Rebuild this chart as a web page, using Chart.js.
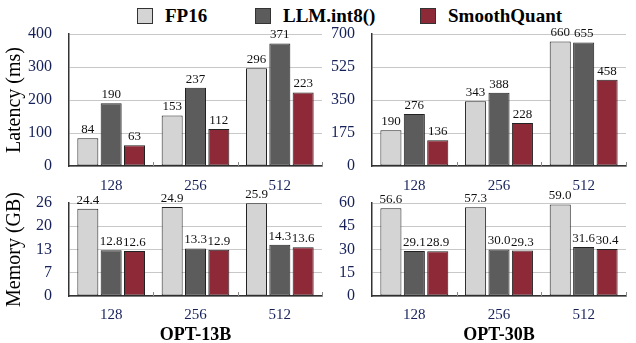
<!DOCTYPE html>
<html>
<head>
<meta charset="utf-8">
<script src="https://cdn.jsdelivr.net/npm/chart.js@4/dist/chart.umd.min.js"></script>
<style>
    html, body { margin: 0; padding: 0; background: #fff; }
    #wrap { position: relative; width: 636px; height: 343px; overflow: hidden; font-family: "Liberation Serif", "Times New Roman", serif; }
    #wrap canvas { position: absolute; }
    .legend .item { position: absolute; top: 6px; display: flex; align-items: center; }
    .legend .box { width: 14px; height: 14px; border: 1.5px solid #333; margin-right: 12px; }
    .legend .name { font-weight: bold; font-size: 19px; color: #000; line-height: 20px; }
</style>
</head>
<body>
<div id="wrap">
    <div class="legend" id="legend"></div>
    <canvas id="lat13" width="328" height="182" style="left:0;top:18px"></canvas>
    <canvas id="lat30" width="314" height="182" style="left:322px;top:18px"></canvas>
    <canvas id="mem13" width="328" height="160" style="left:0;top:186px"></canvas>
    <canvas id="mem30" width="314" height="160" style="left:322px;top:186px"></canvas>
</div>
<script>
const groups = ['128', '256', '512'];
const seriesNames = ['FP16', 'LLM.int8()', 'SmoothQuant'];

const latency13bFp16 = [84, 153, 296];
const latency13bInt8 = [190, 237, 371];
const latency13bSq = [63, 112, 223];

const latency30bFp16 = [190, 343, 660];
const latency30bInt8 = [276, 388, 655];
const latency30bSq = [136, 228, 458];

const memory13bFp16 = [24.4, 24.9, 25.9];
const memory13bInt8 = [12.8, 13.3, 14.3];
const memory13bSq = [12.6, 12.9, 13.6];

const memory30bFp16 = [56.6, 57.3, 59.0];
const memory30bInt8 = [29.1, 30.0, 31.6];
const memory30bSq = [28.9, 29.3, 30.4];

const colors = ['#d4d4d4', '#5c5c5c', '#8e2a38'];
const tickColor = '#16215a';
const legendLefts = [137, 255, 420];

Chart.defaults.font.family = '"Liberation Serif", "Times New Roman", serif';

// html legend
const legendEl = document.getElementById('legend');
seriesNames.forEach(function (name, i) {
    const item = document.createElement('div');
    item.className = 'item';
    item.style.left = legendLefts[i] + 'px';
    item.innerHTML = '<span class="box" style="background:' + colors[i] + '"></span><span class="name"></span>';
    item.querySelector('.name').textContent = name;
    legendEl.appendChild(item);
});

const valueLabels = {
    id: 'valueLabels',
    afterDatasetsDraw(chart, args, opts) {
        const ctx = chart.ctx;
        ctx.save();
        ctx.font = '13px "Liberation Serif", "Times New Roman", serif';
        ctx.fillStyle = '#111';
        ctx.textAlign = 'center';
        ctx.textBaseline = 'bottom';
        chart.data.datasets.forEach(function (ds, i) {
            chart.getDatasetMeta(i).data.forEach(function (bar, j) {
                ctx.fillText(ds.data[j].toFixed(opts.digits || 0), bar.x, bar.y - 2);
            });
        });
        ctx.restore();
    }
};

// small upward marks between groups on the x axis
const groupTicks = {
    id: 'groupTicks',
    afterDraw(chart) {
        const xScale = chart.scales.x;
        const ctx = chart.ctx;
        const y0 = chart.chartArea.bottom;
        ctx.save();
        ctx.strokeStyle = '#888';
        ctx.lineWidth = 1;
        for (let i = 0; i < groups.length; i++) {
            const px = Math.round(xScale.getPixelForValue(i + 0.5)) + 0.5;
            ctx.beginPath();
            ctx.moveTo(px, y0);
            ctx.lineTo(px, y0 - 4);
            ctx.stroke();
        }
        ctx.restore();
    }
};

function buildPanel(id, values, o) {
    new Chart(document.getElementById(id), {
        type: 'bar',
        data: {
            labels: groups,
            datasets: seriesNames.map(function (name, i) {
                return {
                    label: name,
                    data: values[i],
                    backgroundColor: colors[i],
                    borderColor: '#222',
                    borderWidth: 1,
                    borderSkipped: false,
                    categoryPercentage: 0.83,
                    barPercentage: 0.9,
                };
            }),
        },
        options: {
            responsive: false,
            animation: false,
            layout: { padding: { top: o.padTop, right: o.padRight, left: 0, bottom: 0 } },
            plugins: {
                legend: { display: false },
                tooltip: { enabled: false },
                valueLabels: { digits: o.digits },
            },
            scales: {
                x: {
                    grid: { display: false },
                    border: { color: '#333', width: 1.5 },
                    ticks: { color: tickColor, font: { size: 15 }, padding: o.xPad, maxRotation: 0 },
                    title: o.xTitle ? {
                        display: true,
                        text: o.xTitle,
                        color: '#000',
                        font: { size: 18, weight: 'bold' },
                        padding: 0,
                    } : { display: false },
                    afterFit: function (s) { s.height = o.xHeight; },
                },
                y: {
                    min: 0,
                    max: o.max,
                    ticks: {
                        stepSize: o.step,
                        autoSkip: false,
                        color: tickColor,
                        font: { size: 16 },
                        padding: 0,
                        callback: function (v) { return Math.round(v); },
                    },
                    // invisible tick marks keep the labels away from the axis
                    grid: { color: '#c8c8c8', drawTicks: true, tickLength: 17, tickColor: 'rgba(0,0,0,0)' },
                    border: { color: '#333', width: 1.5 },
                    title: o.yTitle ? {
                        display: true,
                        text: o.yTitle,
                        color: '#000',
                        font: { size: 20 },
                        padding: { top: 3, bottom: 0 },
                    } : { display: false },
                    afterFit: function (s) { s.width = o.yWidth; },
                },
            },
        },
        plugins: [valueLabels, groupTicks],
    });
}

buildPanel('lat13', [latency13bFp16, latency13bInt8, latency13bSq], {
    max: 400, step: 100, digits: 0, yTitle: 'Latency (ms)', yWidth: 69,
    padTop: 16, padRight: 6, xHeight: 34, xPad: 3,
});
buildPanel('lat30', [latency30bFp16, latency30bInt8, latency30bSq], {
    max: 700, step: 175, digits: 0, yWidth: 50,
    padTop: 16, padRight: 10, xHeight: 34, xPad: 3,
});
buildPanel('mem13', [memory13bFp16, memory13bInt8, memory13bSq], {
    max: 26, step: 6.5, digits: 1, yTitle: 'Memory (GB)', yWidth: 69,
    padTop: 17, padRight: 6, xHeight: 50, xPad: 2, xTitle: 'OPT-13B',
});
buildPanel('mem30', [memory30bFp16, memory30bInt8, memory30bSq], {
    max: 60, step: 15, digits: 1, yWidth: 50,
    padTop: 17, padRight: 10, xHeight: 50, xPad: 2, xTitle: 'OPT-30B',
});
</script>
</body>
</html>
